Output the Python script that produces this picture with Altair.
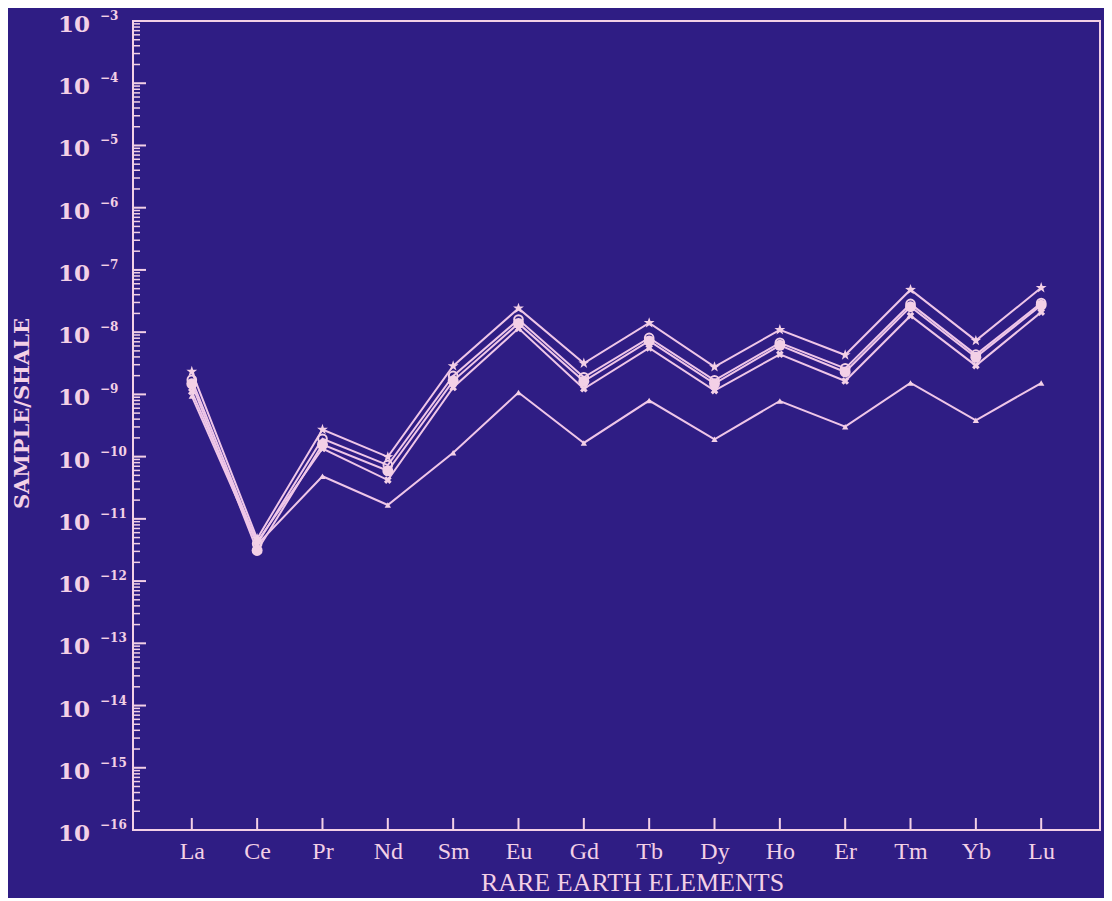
import altair as alt
import pandas as pd

# ---------------- data ----------------
elements = ["La", "Ce", "Pr", "Nd", "Sm", "Eu", "Gd", "Tb", "Dy", "Ho", "Er", "Tm", "Yb", "Lu"]

star_series = [2.33e-9, 4.8e-12, 2.72e-10, 9.9e-11, 2.86e-9, 2.41e-8, 3.16e-9,
               1.41e-8, 2.76e-9, 1.09e-8, 4.29e-9, 4.81e-8, 7.31e-9, 5.16e-8]
open_circle_series = [1.71e-9, 3.98e-12, 1.93e-10, 7.3e-11, 1.98e-9, 1.59e-8, 1.88e-9,
                      8.07e-9, 1.68e-9, 6.73e-9, 2.62e-9, 2.84e-8, 4.35e-9, 2.93e-8]
filled_circle_series = [1.48e-9, 3.11e-12, 1.56e-10, 5.92e-11, 1.65e-9, 1.38e-8, 1.62e-9,
                        7.22e-9, 1.49e-9, 6.14e-9, 2.29e-9, 2.56e-8, 3.94e-9, 2.72e-8]
cross_series = [1.11e-9, 4.29e-12, 1.35e-10, 4.2e-11, 1.29e-9, 1.15e-8, 1.23e-9,
                5.57e-9, 1.15e-9, 4.41e-9, 1.64e-9, 1.84e-8, 2.9e-9, 2.1e-8]
lower_series = [9.4e-10, 3.84e-12, 4.84e-11, 1.67e-11, 1.15e-10, 1.07e-9, 1.66e-10,
                7.96e-10, 1.9e-10, 7.83e-10, 3.03e-10, 1.53e-9, 3.84e-10, 1.52e-9]

series_names = ["star", "open", "filled", "cross", "lower"]
series_values = [star_series, open_circle_series, filled_circle_series, cross_series, lower_series]

exponents = [-3, -4, -5, -6, -7, -8, -9, -10, -11, -12, -13, -14, -15, -16]
minor_multipliers = [2, 3, 4, 5, 6, 7, 8, 9]

# ---------------- tables ----------------
rows = []
for name, vals in zip(series_names, series_values):
    for el, v in zip(elements, vals):
        rows.append({"series": name, "element": el, "value": v})
df = pd.DataFrame(rows)

decades = pd.DataFrame({
    "value": [10.0 ** e for e in exponents],
    "base": ["10"] * len(exponents),
    "exp": ["\u2212" + str(-e) for e in exponents],
})
minor = pd.DataFrame({
    "value": [m * 10.0 ** e for e in exponents[1:] for m in minor_multipliers]
})
xticks = pd.DataFrame({"element": elements})

# ---------------- style ----------------
BG = "#2f1d84"
PINK = "#f3d0e6"
LINE = "#efc6e8"
W, H = 967, 809

xscale = alt.Scale(type="point", domain=elements, padding=0.9)
yscale = alt.Scale(type="log", domain=[1e-16, 1e-3], nice=False)

xaxis = alt.Axis(
    title="RARE EARTH ELEMENTS", labelAngle=0, labelFont="Liberation Serif",
    labelFontSize=24, labelColor=PINK, labelPadding=9, ticks=False, tickSize=0,
    domain=False, grid=False, titleFont="Liberation Serif", titleFontSize=26,
    titleFontWeight="normal", titleColor=PINK, titleX=499, titleY=52,
    titleBaseline="middle", titleAlign="center",
)
yaxis = alt.Axis(
    title="SAMPLE/SHALE", labels=False, ticks=False, tickSize=0, domain=False,
    grid=False, titleFont="DejaVu Serif", titleFontSize=21, titleFontWeight="bold",
    titleColor=PINK, titleX=-111, titleY=392, titleBaseline="middle",
    titleAlign="center", titleAngle=270,
)

X = alt.X("element:N", scale=xscale, axis=xaxis, sort=elements)
Y = alt.Y("value:Q", scale=yscale, axis=yaxis)

STAR = ("M0,-1L0.235,-0.324L0.951,-0.309L0.38,0.124L0.588,0.809L0,0.4"
        "L-0.588,0.809L-0.38,0.124L-0.951,-0.309L-0.235,-0.324Z")

lines = alt.Chart(df).mark_line(color=LINE, strokeWidth=2).encode(
    x=X, y=Y, detail="series:N")


def points(name, **kw):
    return alt.Chart(df).transform_filter(alt.datum.series == name).mark_point(**kw).encode(x=X, y=Y)


p_star = points("star", shape=STAR, size=130, filled=True, color=PINK, opacity=1)
p_open = points("open", shape="circle", size=75, filled=False, color=PINK, strokeWidth=2, opacity=1)
p_filled = points("filled", shape="circle", size=120, filled=True, color=PINK, opacity=1)
p_cross = points("cross", shape="cross", angle=45, size=60, filled=True, color=PINK, opacity=1)
p_lower = points("lower", shape="triangle-up", size=40, filled=True, color=PINK, opacity=1)

major_ticks = alt.Chart(decades).mark_rule(color=PINK, strokeWidth=2).encode(
    y=Y, x=alt.value(0), x2=alt.value(13))
minor_ticks = alt.Chart(minor).mark_rule(color=PINK, strokeWidth=1.5).encode(
    y=Y, x=alt.value(0), x2=alt.value(7))
x_ticks = alt.Chart(xticks).mark_rule(color=PINK, strokeWidth=2).encode(
    x=X, y=alt.value(H), y2=alt.value(H - 12))

base_labels = alt.Chart(decades).mark_text(
    font="DejaVu Serif", fontSize=23, fontWeight="bold", color=PINK, align="right",
    baseline="middle", dy=4
).encode(y=Y, x=alt.value(-43), text="base:N")
exp_labels = alt.Chart(decades).mark_text(
    font="DejaVu Serif", fontSize=12, fontWeight="bold", color=PINK, align="left",
    baseline="middle", dy=-5
).encode(y=Y, x=alt.value(-33), text="exp:N")

chart = alt.layer(
    minor_ticks, major_ticks, x_ticks, base_labels, exp_labels,
    lines, p_lower, p_cross, p_filled, p_open, p_star,
).properties(
    width=W, height=H,
    autosize=alt.AutoSizeParams(type="none"),
    padding={"left": 125, "top": 13, "right": 4, "bottom": 68},
).configure(background=BG).configure_view(fill=BG, stroke=PINK, strokeWidth=2)

chart.save("out.html", embed_options={"renderer": "svg", "actions": False})
